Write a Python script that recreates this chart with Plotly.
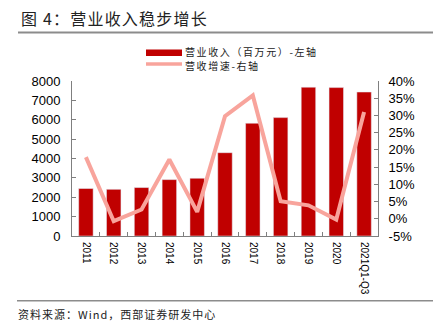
import plotly.graph_objects as go

# Annual operating revenue (million yuan) and YoY growth (%)
years = ["2011", "2012", "2013", "2014", "2015", "2016", "2017", "2018", "2019", "2020", "2021Q1-Q3"]
revenue = [2450, 2410, 2500, 2910, 2980, 4300, 5820, 6110, 7680, 7660, 7430]
growth = [17.9, -0.7, 2.7, 17.2, 2.0, 29.8, 35.8, 5.1, 3.9, -0.2, 31.0]

left_ticks = [0, 1000, 2000, 3000, 4000, 5000, 6000, 7000, 8000]
right_ticks = [-5, 0, 5, 10, 15, 20, 25, 30, 35, 40]

BAR_RED = "#C00000"
LINE_PINK = "#F8A49C"
CJK = "Noto Sans CJK SC"
LATIN = "Liberation Sans, Arial"

W, H = 440, 334
L, R, T, B = 72, 62, 81, 98

fig = go.Figure()
fig.add_trace(go.Bar(x=years, y=revenue, marker_color=BAR_RED, width=0.52,
                     name="营业收入（百万元）-左轴", showlegend=False))
fig.add_trace(go.Scatter(x=years, y=growth, yaxis="y2", mode="lines",
                         line=dict(color=LINE_PINK, width=4), name="营收增速-右轴",
                         showlegend=False))

axis_common = dict(showgrid=False, zeroline=False, showline=True, linecolor="#7f7f7f",
                   linewidth=1, ticks="inside", ticklen=4, tickcolor="#7f7f7f")

fig.update_layout(
    width=W, height=H,
    margin=dict(l=L, r=R, t=T, b=B),
    plot_bgcolor="white", paper_bgcolor="white",
    xaxis=dict(**axis_common, tickangle=90, tickfont=dict(family=LATIN, size=10, color="#000"),
               tickson="boundaries", ticklabelstandoff=3),
    yaxis=dict(**axis_common, range=[0, 8000], tickvals=left_ticks, ticklabelstandoff=8,
               tickfont=dict(family=LATIN, size=13, color="#000")),
    yaxis2=dict(**axis_common, overlaying="y", side="right", range=[-5, 40],
                tickvals=right_ticks, ticktext=[f"{v}%" for v in right_ticks],
                ticklabelstandoff=7, tickfont=dict(family=LATIN, size=13, color="#000")),
)

# Paper coordinates are measured against the plot area, so convert from pixels
def fx(x):
    return (x - L) / (W - L - R)

def fy(y):
    return ((H - y) - B) / (H - T - B)

shapes = [
    # header and footer rules
    dict(type="line", x0=fx(18), x1=fx(433), y0=fy(32.5), y1=fy(32.5),
         line=dict(color="#8c8c8c", width=2)),
    dict(type="line", x0=fx(17), x1=fx(433), y0=fy(300.8), y1=fy(300.8),
         line=dict(color="#8c8c8c", width=1.5)),
    # legend swatches
    dict(type="rect", x0=fx(146), x1=fx(182), y0=fy(56), y1=fy(49.5),
         fillcolor=BAR_RED, line=dict(width=0)),
    dict(type="line", x0=fx(146), x1=fx(182), y0=fy(64), y1=fy(64),
         line=dict(color=LINE_PINK, width=3.5)),
]
for s in shapes:
    s.update(xref="paper", yref="paper")
fig.update_layout(shapes=shapes)

def note(text, x, y, size, spacing=0, family=CJK, color="#222", height=None):
    if spacing:
        text = f'<span style="letter-spacing:{spacing}px">{text}</span>'
    fig.add_annotation(text=text, xref="paper", yref="paper", x=fx(x), y=fy(y),
                       xanchor="left", yanchor="middle", showarrow=False, height=height,
                       font=dict(family=family, size=size, color=color))

note("图 4：营业收入稳步增长", 19, 18, 16, spacing=1.2)
note("营业收入（百万元）-左轴", 183, 51.5, 10, spacing=1.6, height=12)
note("营收增速-右轴", 183, 64.5, 10, spacing=1.6, height=12)
note("资料来源：Wind，西部证券研发中心", 16, 314, 11, spacing=1.0)

fig.write_html("out.html")
